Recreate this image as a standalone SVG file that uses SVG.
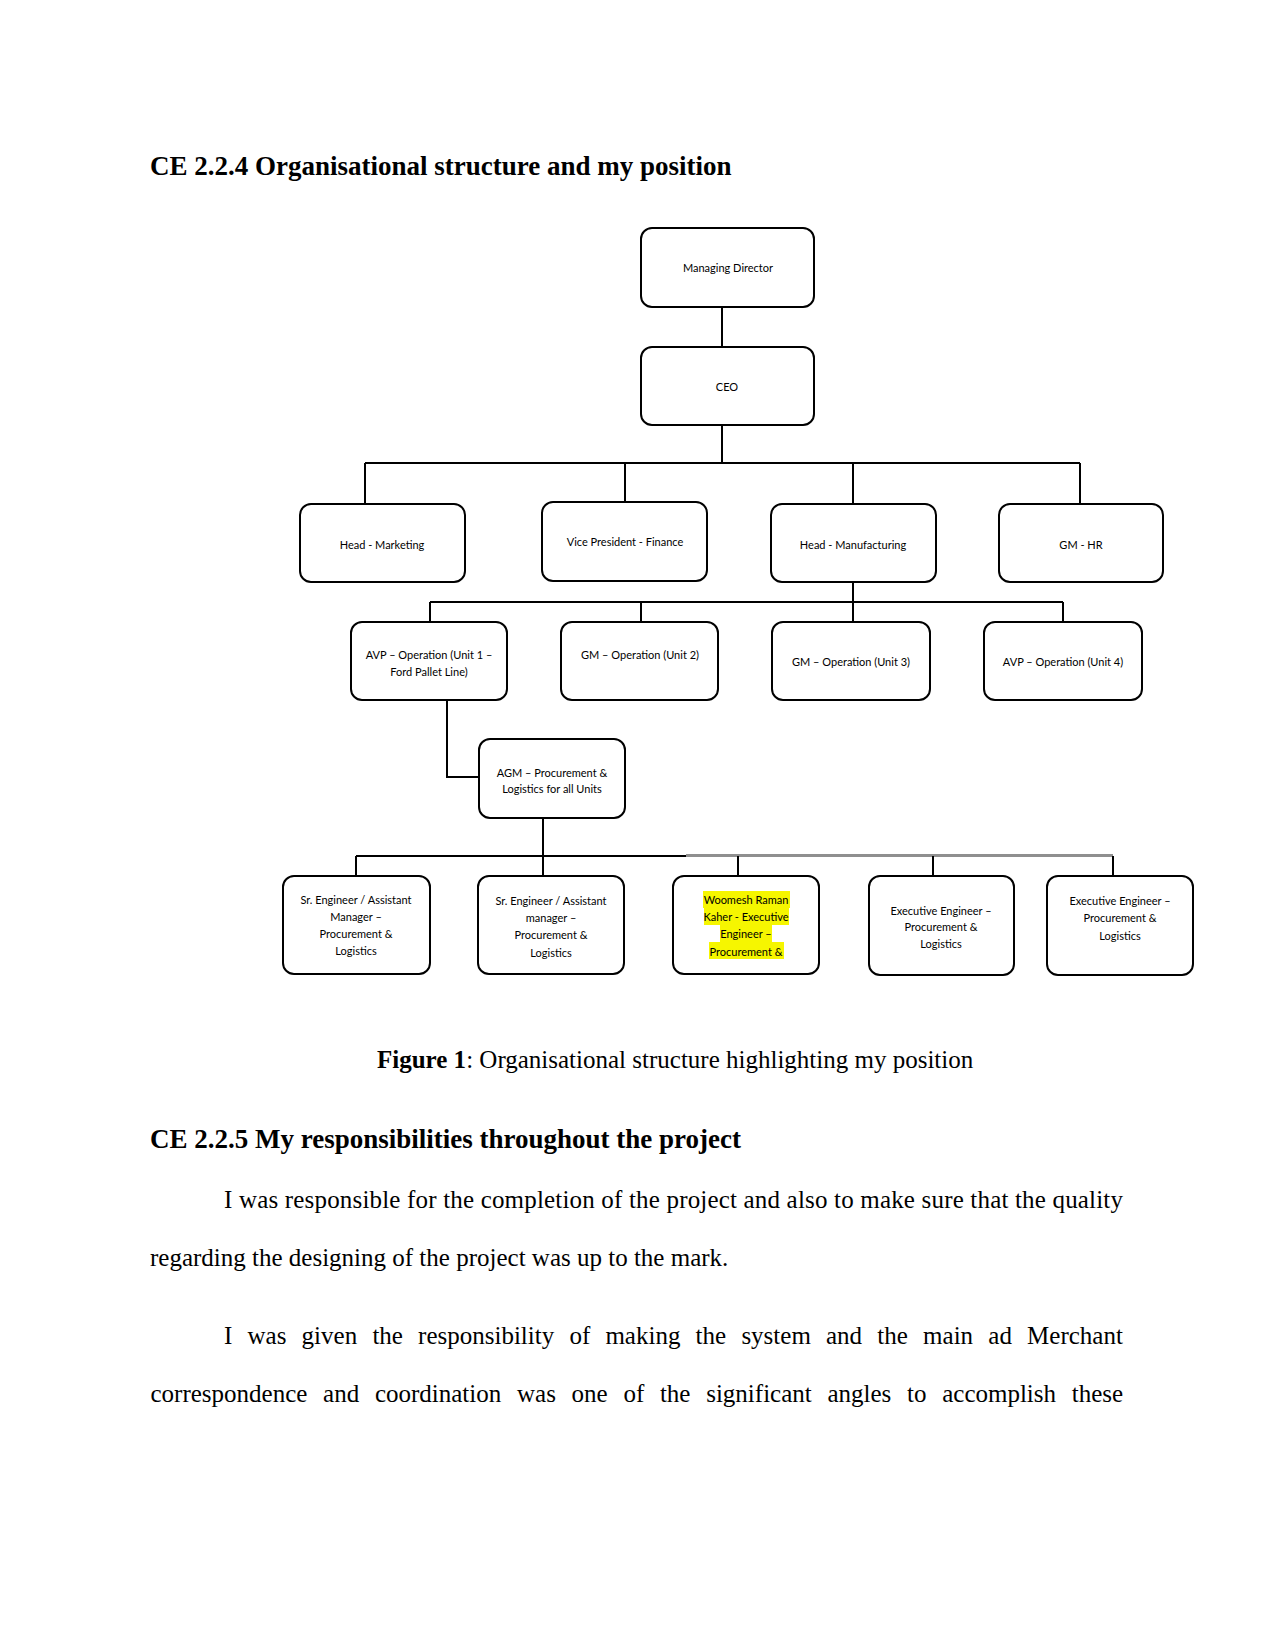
<svg xmlns="http://www.w3.org/2000/svg" width="1275" height="1651" viewBox="0 0 1275 1651">
<style>
.bg{fill:#fff}
.box{fill:#fff;stroke:#000;stroke-width:2}
.lbl{font-family:Lato,"Open Sans","Liberation Sans",sans-serif;font-size:11px;fill:#000;text-anchor:middle;dominant-baseline:central}
.con{fill:none;stroke:#000;stroke-width:2}
.con2{fill:none;stroke:#8f8f8f;stroke-width:3}
.hl{fill:#f6f600}
.h{font-family:"Liberation Serif","Times New Roman",serif;font-size:27px;font-weight:bold;fill:#000}
.p{font-family:"Liberation Serif","Times New Roman",serif;font-size:25px;fill:#000}
</style>
<rect class="bg" x="0" y="0" width="1275" height="1651"/>
<text class="h" x="150" y="175">CE 2.2.4 Organisational structure and my position</text>

<g id="connectors">
<path class="con" d="M722 307V347"/>
<path class="con" d="M722 425V463M365 463H1080M365 463V504M625 463V502M853 463V504M1080 463V504"/>
<path class="con" d="M853 582V602M430 602H1063M430 602V622M641 602V622M853 602V622M1063 602V622"/>
<path class="con" d="M447 700V777H479"/>
<path class="con" d="M543 818V856M356 856H688M356 856V876M543 856V876"/>
<path class="con2" d="M686 855.5H1113"/>
<path class="con" d="M738 856V876M933 856V876M1113 856V876"/>
</g>

<g id="n-md"><rect class="box" x="641" y="228" width="173" height="79" rx="11"/><text class="lbl" x="728" y="267">Managing Director</text></g>
<g id="n-ceo"><rect class="box" x="641" y="347" width="173" height="78" rx="11"/><text class="lbl" x="727" y="386">CEO</text></g>

<g id="n-mkt"><rect class="box" x="300" y="504" width="165" height="78" rx="11"/><text class="lbl" x="382" y="544">Head - Marketing</text></g>
<g id="n-vpf"><rect class="box" x="542" y="502" width="165" height="79" rx="11"/><text class="lbl" x="625" y="541">Vice President - Finance</text></g>
<g id="n-mfg"><rect class="box" x="771" y="504" width="165" height="78" rx="11"/><text class="lbl" x="853" y="544">Head - Manufacturing</text></g>
<g id="n-hr"><rect class="box" x="999" y="504" width="164" height="78" rx="11"/><text class="lbl" x="1081" y="544">GM - HR</text></g>

<g id="n-u1"><rect class="box" x="351" y="622" width="156" height="78" rx="11"/><text class="lbl" x="429" y="654">AVP – Operation (Unit 1 –</text><text class="lbl" x="429" y="671">Ford Pallet Line)</text></g>
<g id="n-u2"><rect class="box" x="561" y="622" width="157" height="78" rx="11"/><text class="lbl" x="640" y="654">GM – Operation (Unit 2)</text></g>
<g id="n-u3"><rect class="box" x="772" y="622" width="158" height="78" rx="11"/><text class="lbl" x="851" y="661">GM – Operation (Unit 3)</text></g>
<g id="n-u4"><rect class="box" x="984" y="622" width="158" height="78" rx="11"/><text class="lbl" x="1063" y="661">AVP – Operation (Unit 4)</text></g>

<g id="n-agm"><rect class="box" x="479" y="739" width="146" height="79" rx="11"/><text class="lbl" x="552" y="772">AGM – Procurement &amp;</text><text class="lbl" x="552" y="788">Logistics for all Units</text></g>

<g id="n-sr1"><rect class="box" x="283" y="876" width="147" height="98" rx="11"/>
<text class="lbl" x="356" y="899">Sr. Engineer / Assistant</text><text class="lbl" x="356" y="916">Manager –</text><text class="lbl" x="356" y="933">Procurement &amp;</text><text class="lbl" x="356" y="950">Logistics</text></g>
<g id="n-sr2"><rect class="box" x="478" y="876" width="146" height="98" rx="11"/>
<text class="lbl" x="551" y="900">Sr. Engineer / Assistant</text><text class="lbl" x="551" y="917">manager –</text><text class="lbl" x="551" y="934">Procurement &amp;</text><text class="lbl" x="551" y="952">Logistics</text></g>
<g id="n-me"><rect class="box" x="673" y="876" width="146" height="98" rx="11"/>
<rect class="hl" x="703" y="891" width="87" height="17"/><rect class="hl" x="704" y="908" width="85" height="17"/><rect class="hl" x="720" y="925" width="52" height="17"/><rect class="hl" x="709" y="942" width="75" height="17"/>
<text class="lbl" x="746" y="899">Woomesh Raman</text><text class="lbl" x="746" y="916">Kaher - Executive</text><text class="lbl" x="746" y="933">Engineer –</text><text class="lbl" x="746" y="951">Procurement &amp;</text></g>
<g id="n-ex1"><rect class="box" x="869" y="876" width="145" height="99" rx="11"/>
<text class="lbl" x="941" y="910">Executive Engineer –</text><text class="lbl" x="941" y="926">Procurement &amp;</text><text class="lbl" x="941" y="943">Logistics</text></g>
<g id="n-ex2"><rect class="box" x="1047" y="876" width="146" height="99" rx="11"/>
<text class="lbl" x="1120" y="900">Executive Engineer –</text><text class="lbl" x="1120" y="917">Procurement &amp;</text><text class="lbl" x="1120" y="935">Logistics</text></g>

<text class="p" x="377" y="1068"><tspan font-weight="bold">Figure 1</tspan>: Organisational structure highlighting my position</text>
<text class="h" x="150" y="1148">CE 2.2.5 My responsibilities throughout the project</text>
<text class="p" x="224" y="1208" textLength="899" lengthAdjust="spacing">I was responsible for the completion of the project and also to make sure that the quality</text>
<text class="p" x="150" y="1266">regarding the designing of the project was up to the mark.</text>
<text class="p" y="1344"><tspan x="224">I</tspan><tspan x="247.5">was</tspan><tspan x="301.6">given</tspan><tspan x="372.4">the</tspan><tspan x="418.1">responsibility</tspan><tspan x="569.4">of</tspan><tspan x="605.4">making</tspan><tspan x="695.6">the</tspan><tspan x="741.4">system</tspan><tspan x="826">and</tspan><tspan x="877.3">the</tspan><tspan x="923.1">main</tspan><tspan x="988.3">ad</tspan><tspan x="1027.1">Merchant</tspan></text>
<text class="p" y="1402"><tspan x="150.5">correspondence</tspan><tspan x="323.1">and</tspan><tspan x="374.9">coordination</tspan><tspan x="517">was</tspan><tspan x="571.6">one</tspan><tspan x="623.4">of</tspan><tspan x="659.9">the</tspan><tspan x="706.2">significant</tspan><tspan x="827.4">angles</tspan><tspan x="907">to</tspan><tspan x="942.2">accomplish</tspan><tspan x="1071.8">these</tspan></text>
</svg>
